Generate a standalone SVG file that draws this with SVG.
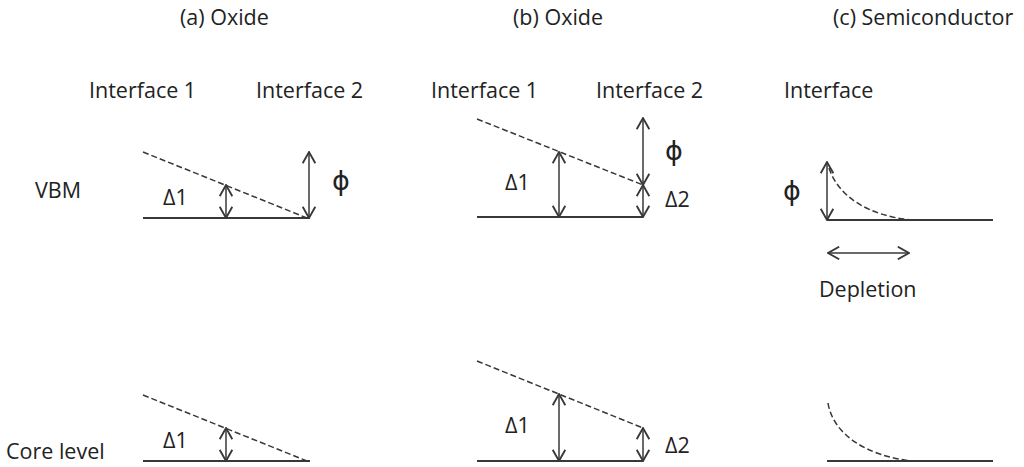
<svg xmlns="http://www.w3.org/2000/svg" width="1024" height="467" viewBox="0 0 1024 467">
<style>
text{font-family:"Open Sans","Liberation Sans",sans-serif;font-size:21.5px;fill:#222}
text.phi{font-family:"DejaVu Sans","Open Sans",sans-serif;font-size:27px}
.base{stroke:#383838;stroke-width:1.8;fill:none}
.dash{stroke:#383838;stroke-width:1.5;stroke-dasharray:6,3;fill:none}
.arr{stroke:#383838;stroke-width:1.5;fill:none;marker-start:url(#ah);marker-end:url(#ah)}
</style>
<defs>
<marker id="ah" markerUnits="userSpaceOnUse" markerWidth="14" markerHeight="14" refX="9" refY="5" orient="auto-start-reverse" viewBox="0 0 10 10">
<path d="M1,0.5 L9,5 L1,9.5" fill="none" stroke="#383838" stroke-width="1.3"/>
</marker>
</defs>
<g id="titles">
<text x="180" y="25">(a) Oxide</text>
<text x="513" y="25">(b) Oxide</text>
<text x="833" y="25">(c) Semiconductor</text>
<text x="89" y="98">Interface 1</text>
<text x="256" y="98">Interface 2</text>
<text x="431" y="98">Interface 1</text>
<text x="596" y="98">Interface 2</text>
<text x="784" y="98">Interface</text>
<text x="35" y="198">VBM</text>
<text x="6" y="459">Core level</text>
</g>
<g id="panel-a-vbm">
<line class="base" x1="143" y1="218" x2="310" y2="218"/>
<line class="dash" x1="143" y1="152" x2="307" y2="218"/>
<text x="163" y="205">Δ1</text>
<text class="phi" x="332" y="190">ϕ</text>
</g>
<g id="panel-b-vbm">
<line class="base" x1="477" y1="217" x2="643" y2="217"/>
<line class="dash" x1="477" y1="119" x2="643" y2="185"/>
<text x="505" y="190">Δ1</text>
<text class="phi" x="665" y="160">ϕ</text>
<text x="665" y="207">Δ2</text>
</g>
<g id="panel-c-vbm">
<line class="base" x1="827" y1="220" x2="993" y2="220"/>
<path class="dash" d="M829,168 C838,196 868,216 912,220"/>
<text class="phi" x="783" y="200">ϕ</text>
<text x="819" y="297">Depletion</text>
</g>
<g id="panel-a-core">
<line class="base" x1="143" y1="461" x2="310" y2="461"/>
<line class="dash" x1="143" y1="395" x2="307" y2="461"/>
<text x="163" y="448">Δ1</text>
</g>
<g id="panel-b-core">
<line class="base" x1="477" y1="461" x2="643" y2="461"/>
<line class="dash" x1="477" y1="361" x2="643" y2="428"/>
<text x="505" y="433">Δ1</text>
<text x="665" y="453">Δ2</text>
</g>
<g id="panel-c-core">
<line class="base" x1="827" y1="461" x2="993" y2="461"/>
<path class="dash" d="M828,403 C833,434 866,456 912,461"/>
</g>
<g id="connectors">
<line class="arr" x1="226" y1="185" x2="226" y2="218"/>
<line class="arr" x1="309" y1="152" x2="309" y2="218"/>
<line class="arr" x1="559" y1="152" x2="559" y2="217"/>
<line class="arr" x1="643" y1="118" x2="643" y2="185"/>
<line class="arr" x1="643" y1="185" x2="643" y2="217"/>
<line class="arr" x1="827" y1="162" x2="827" y2="220"/>
<line class="arr" x1="828" y1="253" x2="909" y2="253"/>
<line class="arr" x1="226" y1="428" x2="226" y2="461"/>
<line class="arr" x1="559" y1="394" x2="559" y2="461"/>
<line class="arr" x1="643" y1="428" x2="643" y2="461"/>
</g>
</svg>
